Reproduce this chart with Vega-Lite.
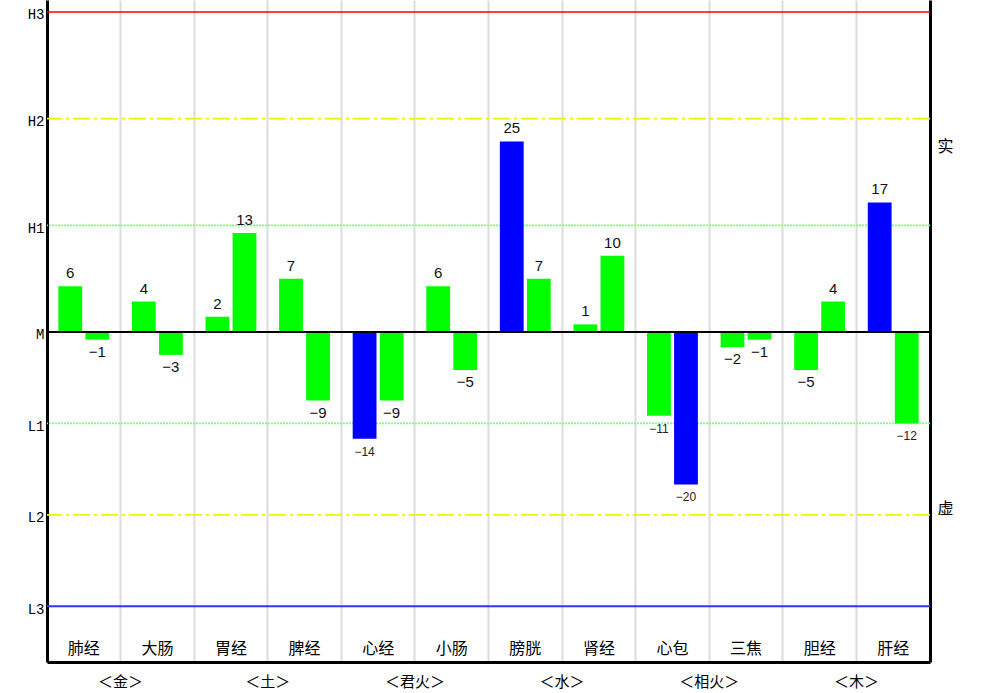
{
  "$schema": "https://vega.github.io/schema/vega-lite/v6.json",
  "width": 883,
  "height": 662,
  "autosize": {"type": "none"},
  "padding": {"left": 47, "top": 0, "right": 69, "bottom": 31},
  "background": "white",
  "view": {"stroke": null},
  "datasets": {
    "meridians": [
      {"meridian": "肺经", "pos": "左", "value": 6, "flag": "正常"},
      {"meridian": "肺经", "pos": "右", "value": -1, "flag": "正常"},
      {"meridian": "大肠", "pos": "左", "value": 4, "flag": "正常"},
      {"meridian": "大肠", "pos": "右", "value": -3, "flag": "正常"},
      {"meridian": "胃经", "pos": "左", "value": 2, "flag": "正常"},
      {"meridian": "胃经", "pos": "右", "value": 13, "flag": "正常"},
      {"meridian": "脾经", "pos": "左", "value": 7, "flag": "正常"},
      {"meridian": "脾经", "pos": "右", "value": -9, "flag": "正常"},
      {"meridian": "心经", "pos": "左", "value": -14, "flag": "异常"},
      {"meridian": "心经", "pos": "右", "value": -9, "flag": "正常"},
      {"meridian": "小肠", "pos": "左", "value": 6, "flag": "正常"},
      {"meridian": "小肠", "pos": "右", "value": -5, "flag": "正常"},
      {"meridian": "膀胱", "pos": "左", "value": 25, "flag": "异常"},
      {"meridian": "膀胱", "pos": "右", "value": 7, "flag": "正常"},
      {"meridian": "肾经", "pos": "左", "value": 1, "flag": "正常"},
      {"meridian": "肾经", "pos": "右", "value": 10, "flag": "正常"},
      {"meridian": "心包", "pos": "左", "value": -11, "flag": "正常"},
      {"meridian": "心包", "pos": "右", "value": -20, "flag": "异常"},
      {"meridian": "三焦", "pos": "左", "value": -2, "flag": "正常"},
      {"meridian": "三焦", "pos": "右", "value": -1, "flag": "正常"},
      {"meridian": "胆经", "pos": "左", "value": -5, "flag": "正常"},
      {"meridian": "胆经", "pos": "右", "value": 4, "flag": "正常"},
      {"meridian": "肝经", "pos": "左", "value": 17, "flag": "异常"},
      {"meridian": "肝经", "pos": "右", "value": -12, "flag": "正常"}
    ],
    "levels": [
      {"name": "H3", "value": 42},
      {"name": "H2", "value": 28},
      {"name": "H1", "value": 14},
      {"name": "M", "value": 0},
      {"name": "L1", "value": -12},
      {"name": "L2", "value": -24},
      {"name": "L3", "value": -36}
    ],
    "groups": [
      {"group": "＜金＞", "boundary": "大肠"},
      {"group": "＜土＞", "boundary": "脾经"},
      {"group": "＜君火＞", "boundary": "小肠"},
      {"group": "＜水＞", "boundary": "肾经"},
      {"group": "＜相火＞", "boundary": "三焦"},
      {"group": "＜木＞", "boundary": "肝经"}
    ]
  },
  "resolve": {
    "axis": {"y": "independent"},
    "scale": {"color": "independent"}
  },
  "layer": [
    {
      "data": {"name": "levels"},
      "mark": {"type": "rule"},
      "encoding": {
        "y": {
          "field": "value",
          "type": "quantitative",
          "scale": {"domain": [-43.31, 43.57], "nice": false, "zero": false},
          "axis": {
            "orient": "left",
            "title": null,
            "values": [42, 28, 14, 0, -12, -24, -36],
            "labelExpr": "{'42':'H3','28':'H2','14':'H1','0':'M','-12':'L1','-24':'L2','-36':'L3'}[datum.value]",
            "labelFont": "Liberation Mono",
            "labelFontSize": 14,
            "labelColor": "black",
            "labelPadding": 3,
            "labelOffset": 3,
            "labelBaseline": "middle",
            "ticks": false,
            "grid": false,
            "domain": true,
            "domainColor": "black",
            "domainWidth": 3
          }
        },
        "color": {
          "field": "name",
          "type": "nominal",
          "legend": null,
          "scale": {
            "domain": ["H3", "H2", "H1", "M", "L1", "L2", "L3"],
            "range": ["#FF0000", "#F2F200", "#7CFF7C", "#000000", "#7CFF7C", "#F2F200", "#3333FF"]
          }
        },
        "strokeDash": {
          "field": "name",
          "type": "nominal",
          "legend": null,
          "scale": {
            "domain": ["H3", "H2", "H1", "M", "L1", "L2", "L3"],
            "range": [[1, 0], [17, 4, 3, 4], [2, 1], [1, 0], [2, 1], [17, 4, 3, 4], [1, 0]]
          }
        },
        "size": {
          "field": "name",
          "type": "nominal",
          "legend": null,
          "scale": {
            "domain": ["H3", "H2", "H1", "M", "L1", "L2", "L3"],
            "range": [1.5, 2, 2, 2, 2, 2, 1.5]
          }
        }
      }
    },
    {
      "data": {"name": "meridians"},
      "mark": {"type": "bar"},
      "encoding": {
        "x": {
          "field": "meridian",
          "type": "nominal",
          "sort": null,
          "scale": {
            "domain": ["肺经", "大肠", "胃经", "脾经", "心经", "小肠", "膀胱", "肾经", "心包", "三焦", "胆经", "肝经"],
            "paddingInner": 0,
            "paddingOuter": 0
          },
          "axis": {
            "orient": "bottom",
            "title": null,
            "labelAngle": 0,
            "labelFont": "Noto Sans CJK SC",
            "labelFontSize": 16,
            "labelColor": "black",
            "labelPadding": -22,
            "labelBaseline": "top",
            "bandPosition": 0,
            "ticks": false,
            "grid": true,
            "gridColor": "#DCDCDC",
            "gridWidth": 2,
            "domain": true,
            "domainColor": "black",
            "domainWidth": 3
          }
        },
        "xOffset": {
          "field": "pos",
          "type": "nominal",
          "scale": {"domain": ["左", "右"], "paddingInner": 0.12, "paddingOuter": 0.42}
        },
        "y": {"field": "value", "type": "quantitative", "axis": null},
        "color": {
          "field": "flag",
          "type": "nominal",
          "legend": null,
          "scale": {"domain": ["正常", "异常"], "range": ["#00FF00", "#0000FF"]}
        }
      }
    },
    {
      "data": {"values": [{}]},
      "mark": {"type": "rule", "color": "black", "strokeWidth": 2},
      "encoding": {
        "y": {
          "datum": 0,
          "type": "quantitative",
          "axis": {
            "orient": "right",
            "title": null,
            "values": [24.4, -23.2],
            "labelExpr": "datum.value > 0 ? '实' : '虚'",
            "labelFont": "Noto Sans CJK SC",
            "labelFontSize": 16,
            "labelColor": "black",
            "labelPadding": 7,
            "ticks": false,
            "grid": false,
            "domain": true,
            "domainColor": "black",
            "domainWidth": 3
          }
        }
      }
    },
    {
      "data": {"name": "meridians"},
      "transform": [{"filter": "datum.value > 0"}],
      "mark": {"type": "text", "font": "Liberation Sans", "fontSize": 15, "color": "#111", "baseline": "alphabetic", "dy": -8},
      "encoding": {
        "x": {"field": "meridian", "type": "nominal"},
        "xOffset": {"field": "pos", "type": "nominal"},
        "y": {"field": "value", "type": "quantitative", "axis": null},
        "text": {"field": "value", "type": "quantitative"}
      }
    },
    {
      "data": {"name": "meridians"},
      "transform": [{"filter": "datum.value < 0 && datum.value > -10"}],
      "mark": {"type": "text", "font": "Liberation Sans", "fontSize": 15, "color": "#111", "baseline": "top", "dy": 5},
      "encoding": {
        "x": {"field": "meridian", "type": "nominal"},
        "xOffset": {"field": "pos", "type": "nominal"},
        "y": {"field": "value", "type": "quantitative", "axis": null},
        "text": {"field": "value", "type": "quantitative"}
      }
    },
    {
      "data": {"name": "meridians"},
      "transform": [{"filter": "datum.value <= -10"}],
      "mark": {"type": "text", "font": "Liberation Sans", "fontSize": 12, "color": "#222", "baseline": "top", "dy": 8},
      "encoding": {
        "x": {"field": "meridian", "type": "nominal"},
        "xOffset": {"field": "pos", "type": "nominal"},
        "y": {"field": "value", "type": "quantitative", "axis": null},
        "text": {"field": "value", "type": "quantitative"}
      }
    },
    {
      "data": {"name": "groups"},
      "mark": {"type": "text", "font": "Noto Sans CJK SC", "fontSize": 15, "color": "black", "baseline": "middle"},
      "encoding": {
        "x": {"field": "boundary", "type": "nominal", "bandPosition": 0},
        "y": {"datum": -45.9, "type": "quantitative", "axis": null},
        "text": {"field": "group", "type": "nominal"}
      }
    }
  ]
}
